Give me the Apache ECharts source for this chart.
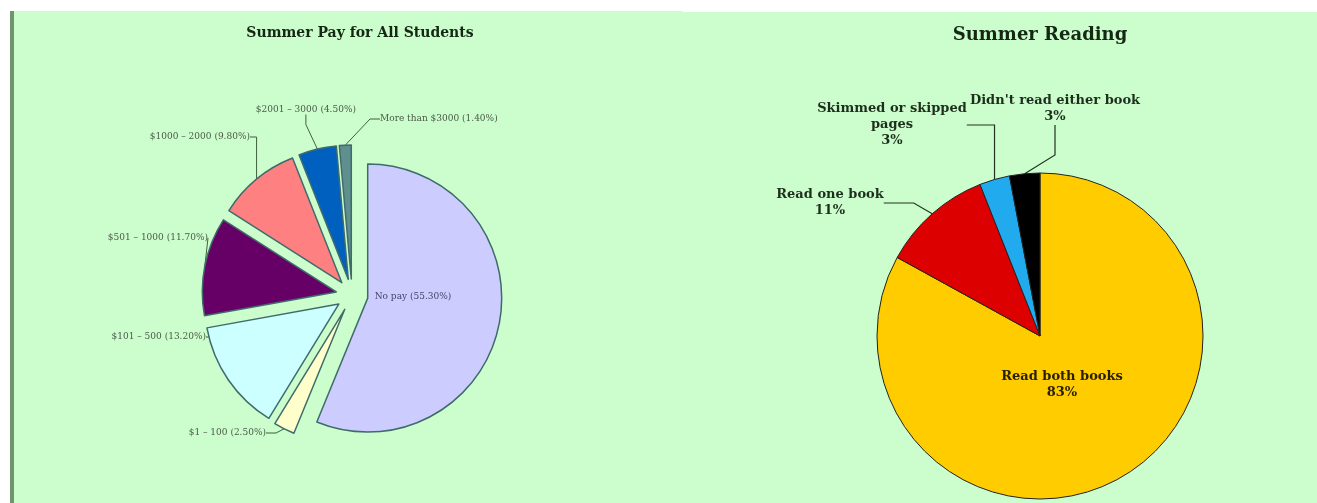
<!DOCTYPE html>
<html><head><meta charset="utf-8">
<script src="https://cdn.jsdelivr.net/npm/echarts@6/dist/echarts.min.js"></script>
<style>
html,body{margin:0;padding:0;background:#fff;width:1317px;height:503px;overflow:hidden}
#bgL{position:absolute;left:10px;top:11px;width:669px;height:492px;background:#ccfdcc;border-left:4px solid #6f946f}
#bgR{position:absolute;left:683px;top:12px;width:634px;height:491px;background:#ccfdcc}
#chart{position:absolute;left:0;top:0;width:1317px;height:503px}
</style></head>
<body>
<div id="bgL"></div><div id="bgR"></div>
<div id="chart"></div>
<script>
const payCategories = ['No pay', '$1 – 100', '$101 – 500', '$501 – 1000', '$1000 – 2000', '$2001 – 3000', 'More than $3000'];
const payValues = [55.30, 2.50, 13.20, 11.70, 9.80, 4.50, 1.40];
const payColors = ['#ccccff', '#ffffcc', '#ccffff', '#660066', '#ff8080', '#0060c0', '#5f8f8f'];

const readCategories = ['Read both books', 'Read one book', 'Skimmed or skipped\npages', "Didn't read either book"];
const readValues = [83, 11, 3, 3];
const readColors = ['#ffcc00', '#dd0000', '#22aaee', '#000000'];

const payLabelPos = [
  {x: 413, y: 297, align: 'center'},
  {x: 266, y: 433, align: 'right'},
  {x: 206, y: 337, align: 'right'},
  {x: 208, y: 238, align: 'right'},
  {x: 250, y: 137, align: 'right'},
  {x: 356, y: 110, align: 'right'},
  {x: 380, y: 119, align: 'left'}
];
const readLabelPos = [
  {x: 1062, y: 385, align: 'center'},
  {x: 830, y: 203, align: 'center'},
  {x: 892, y: 125, align: 'center'},
  {x: 1055, y: 109, align: 'center'}
];

const payCenter = [352, 295];
const payRadius = 134;
const payExplode = 16;

const chart = echarts.init(document.getElementById('chart'));
chart.setOption({
  animation: false,
  title: [
    {text: 'Summer Pay for All Students', left: 355, top: 21, textAlign: 'center',
     textStyle: {fontFamily: 'DejaVu Serif', fontWeight: 'bold', fontSize: 14, color: '#142814'}},
    {text: 'Summer Reading', left: 1035, top: 21, textAlign: 'center',
     textStyle: {fontFamily: 'DejaVu Serif', fontWeight: 'bold', fontSize: 18, color: '#142814'}}
  ],
  series: [
    {
      type: 'pie',
      center: payCenter,
      radius: [0, payRadius],
      startAngle: 90,
      clockwise: true,
      selectedMode: 'multiple',
      selectedOffset: payExplode,
      emphasis: {disabled: true},
      silent: true,
      itemStyle: {borderColor: '#3f6b6b', borderWidth: 1.5},
      label: {show: false},
      labelLine: {show: false},
      data: payCategories.map((c, i) => ({
        name: c, value: payValues[i], selected: true,
        itemStyle: {color: payColors[i]}
      }))
    },
    {
      type: 'pie',
      center: payCenter,
      radius: [0, payRadius + payExplode],
      startAngle: 90,
      clockwise: true,
      silent: true,
      emphasis: {disabled: true},
      itemStyle: {color: 'rgba(0,0,0,0)', borderWidth: 0},
      label: {
        fontFamily: 'DejaVu Serif', fontSize: 9, color: '#4a5a4a',
        formatter: p => p.name + ' (' + p.value.toFixed(2) + '%)'
      },
      labelLine: {show: true, length: 10, length2: 10, lineStyle: {color: '#3f5f3f', width: 1}},
      labelLayout: function (params) {
        const pos = payLabelPos[params.dataIndex];
        return {x: pos.x, y: pos.y, align: pos.align, verticalAlign: 'middle'};
      },
      data: payCategories.map((c, i) => ({
        name: c, value: payValues[i],
        label: i === 0 ? {position: 'inner', color: '#44446a'} : {position: 'outside'},
        labelLine: {show: i !== 0}
      }))
    },
    {
      type: 'pie',
      center: [1040, 336],
      radius: [0, 163],
      startAngle: 90,
      clockwise: true,
      emphasis: {disabled: true},
      itemStyle: {borderColor: '#222', borderWidth: 1},
      label: {
        fontFamily: 'DejaVu Serif', fontWeight: 'bold', fontSize: 13, lineHeight: 16, color: '#1d2e1d',
        formatter: p => p.name + '\n' + p.value + '%'
      },
      labelLine: {show: true, lineStyle: {color: '#223322', width: 1.2}},
      labelLayout: function (params) {
        const pos = readLabelPos[params.dataIndex];
        return {x: pos.x, y: pos.y, align: pos.align, verticalAlign: 'middle'};
      },
      data: readCategories.map((c, i) => ({
        name: c, value: readValues[i],
        itemStyle: {color: readColors[i]},
        label: i === 0 ? {position: 'inner', color: '#2a2000'} : {position: 'outside'},
        labelLine: {show: i !== 0}
      }))
    }
  ]
});
</script>
</body></html>
